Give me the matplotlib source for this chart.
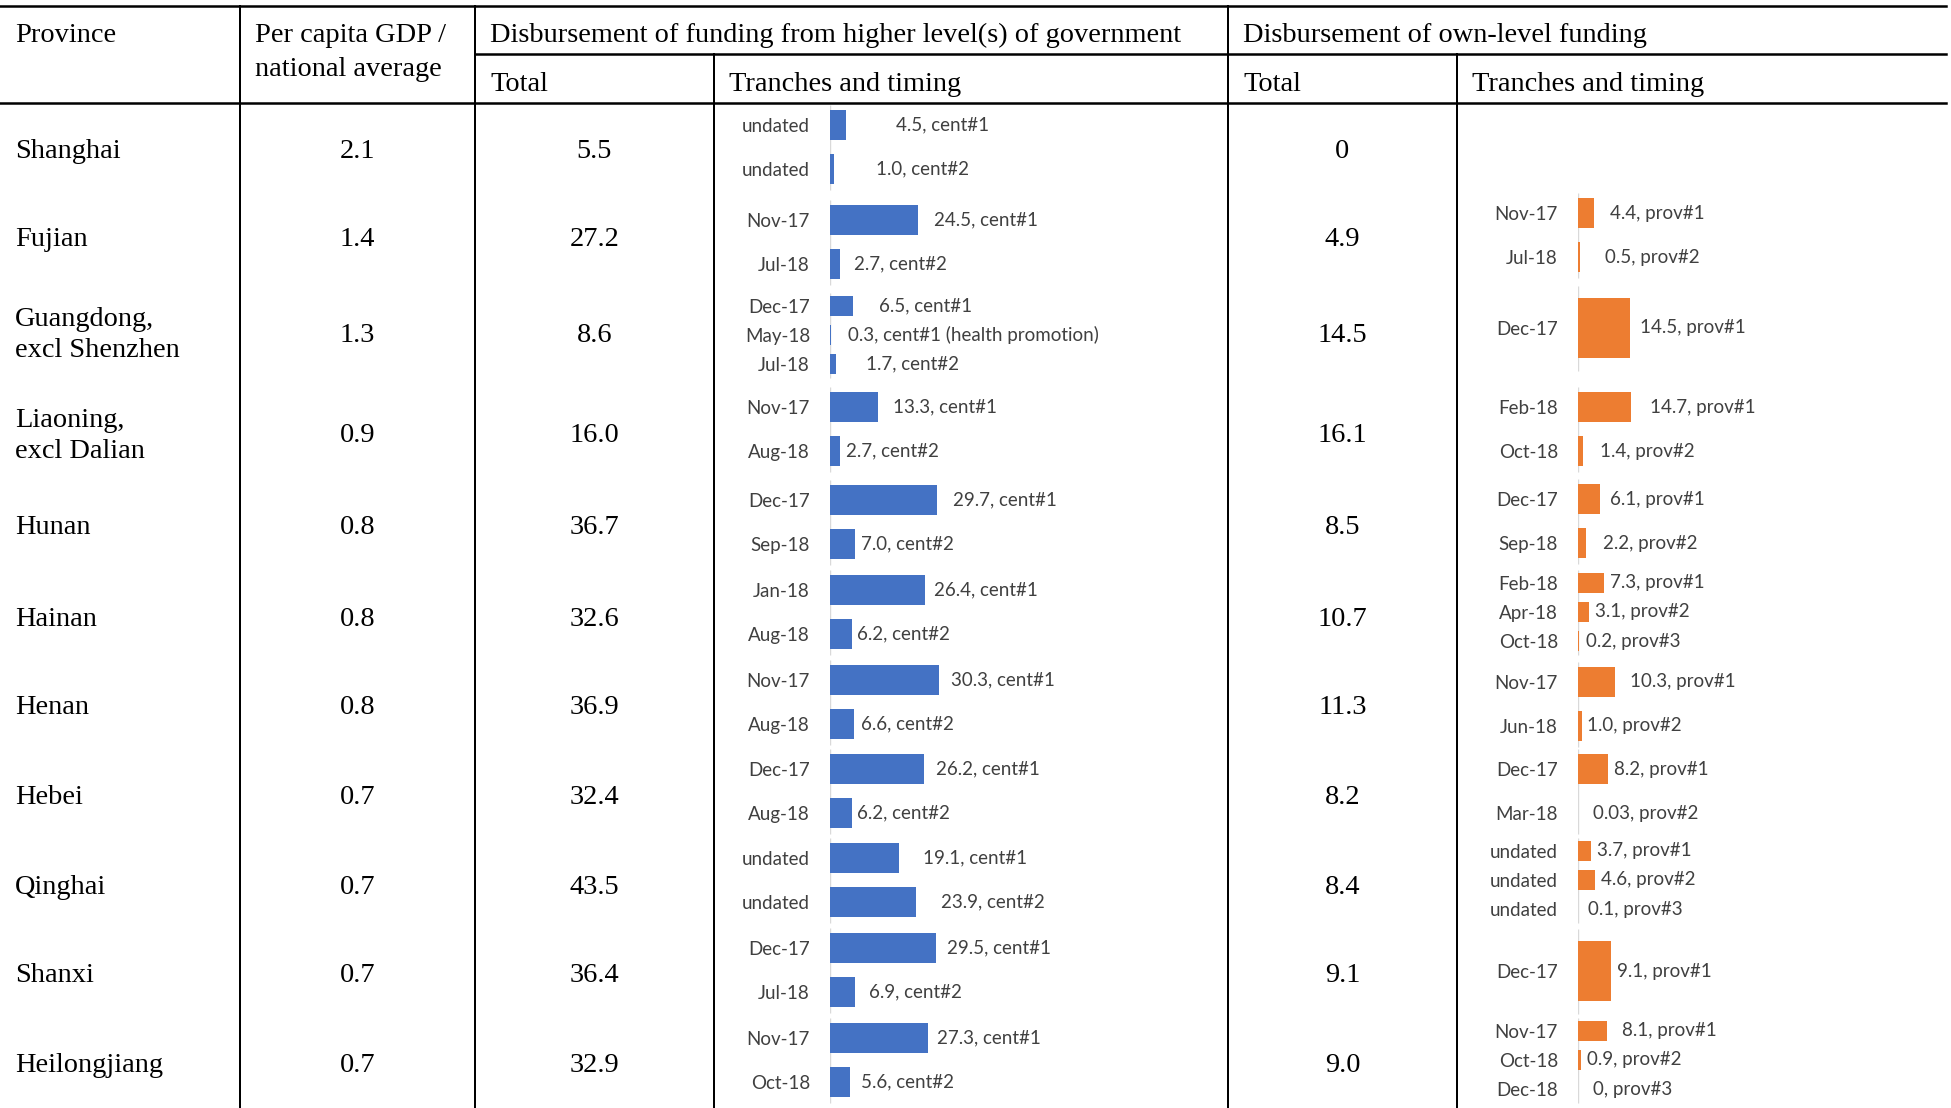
import numpy as np
import matplotlib.pyplot as plt

# ---- data -----------------------------------------------------------------
provinces = ["Shanghai", "Fujian", "Guangdong,\nexcl Shenzhen", "Liaoning,\nexcl Dalian",
             "Hunan", "Hainan", "Henan", "Hebei", "Qinghai", "Shanxi", "Heilongjiang"]
gdp_ratio = [2.1, 1.4, 1.3, 0.9, 0.8, 0.8, 0.8, 0.7, 0.7, 0.7, 0.7]
central_total = [5.5, 27.2, 8.6, 16.0, 36.7, 32.6, 36.9, 32.4, 43.5, 36.4, 32.9]
own_total = [0, 4.9, 14.5, 16.1, 8.5, 10.7, 11.3, 8.2, 8.4, 9.1, 9.0]

central_dates = [["undated", "undated"], ["Nov-17", "Jul-18"], ["Dec-17", "May-18", "Jul-18"],
                 ["Nov-17", "Aug-18"], ["Dec-17", "Sep-18"], ["Jan-18", "Aug-18"],
                 ["Nov-17", "Aug-18"], ["Dec-17", "Aug-18"], ["undated", "undated"],
                 ["Dec-17", "Jul-18"], ["Nov-17", "Oct-18"]]
central_values = [[4.5, 1.0], [24.5, 2.7], [6.5, 0.3, 1.7], [13.3, 2.7], [29.7, 7.0],
                  [26.4, 6.2], [30.3, 6.6], [26.2, 6.2], [19.1, 23.9], [29.5, 6.9], [27.3, 5.6]]
central_tags = [["cent#1", "cent#2"], ["cent#1", "cent#2"],
                ["cent#1", "cent#1 (health promotion)", "cent#2"],
                ["cent#1", "cent#2"], ["cent#1", "cent#2"], ["cent#1", "cent#2"],
                ["cent#1", "cent#2"], ["cent#1", "cent#2"], ["cent#1", "cent#2"],
                ["cent#1", "cent#2"], ["cent#1", "cent#2"]]

own_dates = [[], ["Nov-17", "Jul-18"], ["Dec-17"], ["Feb-18", "Oct-18"], ["Dec-17", "Sep-18"],
             ["Feb-18", "Apr-18", "Oct-18"], ["Nov-17", "Jun-18"], ["Dec-17", "Mar-18"],
             ["undated", "undated", "undated"], ["Dec-17"], ["Nov-17", "Oct-18", "Dec-18"]]
own_values = [[], [4.4, 0.5], [14.5], [14.7, 1.4], [6.1, 2.2], [7.3, 3.1, 0.2], [10.3, 1.0],
              [8.2, 0.03], [3.7, 4.6, 0.1], [9.1], [8.1, 0.9, 0]]
own_tags = [[], ["prov#1", "prov#2"], ["prov#1"], ["prov#1", "prov#2"], ["prov#1", "prov#2"],
            ["prov#1", "prov#2", "prov#3"], ["prov#1", "prov#2"], ["prov#1", "prov#2"],
            ["prov#1", "prov#2", "prov#3"], ["prov#1"], ["prov#1", "prov#2", "prov#3"]]

# ---- layout (pixels) ------------------------------------------------------
W, H, DPI = 1951, 1108, 100
ROW_Y = [152, 240, 335, 436, 528, 619, 708, 797, 887, 976, 1065]
# vertical centre of each little bar chart, per table cell
CENT_Y = [147, 242, 335, 429, 522, 612, 702, 791, 880, 970, 1060]
OWN_Y = [147, 235, 328, 429, 521, 612, 704, 791, 880, 971, 1060]
PX_PER_UNIT = 3.6
PLOT_H = 88
BAR_FRAC = 0.68
# gap between bar end and its data label, as Excel placed them
CENT_GAP = [50, 42, 16, 14, 26, 17, 30, 15, 6, 16, 6, 9, 5, 12, 7, 12, 5, 24, 25, 11, 14, 9, 11]
OWN_GAP = [16, 25, 10, 19, 17, 10, 17, 6, 6, 7, 15, 5, 6, 15, 6, 6, 10, 6, 15, 6, 15]

SERIF = "Liberation Serif"
SANS = "Lato"
FS_TABLE = 20.4
FS_CHART = 13.5
LBL_COLOR = "#404040"
BLUE = "#4472C4"
ORANGE = "#ED7D31"


def fmt(v):
    if v == 0:
        return "0"
    if v < 0.1:
        return f"{v:.2f}"
    return f"{v:.1f}"


fig = plt.figure(figsize=(W / DPI, H / DPI), dpi=DPI)
tab = fig.add_axes([0, 0, 1, 1])
tab.set_xlim(0, W)
tab.set_ylim(H, 0)
tab.axis("off")

# table rules
hlw = 2.5 * 72 / DPI
vlw = 2.0 * 72 / DPI
tab.plot([0, 1946], [5.5, 5.5], color="black", lw=hlw)
tab.plot([475, 1946], [54, 54], color="black", lw=hlw)
tab.plot([0, 1946], [103, 103], color="black", lw=hlw)
for x, y0 in [(240, 5.5), (475, 5.5), (714, 54), (1228, 5.5), (1457, 54)]:
    tab.plot([x, x], [y0, H], color="black", lw=vlw)

# headers
hdr = dict(family=SERIF, fontsize=FS_TABLE, va="baseline", ha="left", color="black")
tab.text(15, 42, "Province", **hdr)
tab.text(255, 42, "Per capita GDP /", **hdr)
tab.text(255, 76, "national average", **hdr)
tab.text(490, 42, "Disbursement of funding from higher level(s) of government", **hdr)
tab.text(1243, 42, "Disbursement of own-level funding", **hdr)
tab.text(490, 91, "Total", **hdr)
tab.text(729, 91, "Tranches and timing", **hdr)
tab.text(1243, 91, "Total", **hdr)
tab.text(1472, 91, "Tranches and timing", **hdr)

# row cells
cell = dict(family=SERIF, fontsize=FS_TABLE, va="center", color="black")
for i, y in enumerate(ROW_Y):
    tab.text(15, y, provinces[i], ha="left", linespacing=1.33, **cell)
    tab.text(357.5, y, f"{gdp_ratio[i]:.1f}", ha="center", **cell)
    tab.text(594.5, y, f"{central_total[i]:.1f}", ha="center", **cell)
    tab.text(1342.5, y, fmt(own_total[i]), ha="center", **cell)


def tranche_axes(left_px, width_px, centers, dates, values, tags, gaps, color):
    ax = fig.add_axes([left_px / W, 0, width_px / W, 1])
    ax.set_xlim(0, width_px / PX_PER_UNIT)
    ax.set_ylim(H, 0)
    ax.patch.set_visible(False)
    for s in ax.spines.values():
        s.set_visible(False)
    ax.set_xticks([])
    ticks, labels = [], []
    k = 0
    for i, c in enumerate(centers):
        n = len(values[i])
        if n == 0:
            continue
        band = PLOT_H / n
        ys = c - PLOT_H / 2 + band * (np.arange(n) + 0.5)
        ax.vlines(0, c - PLOT_H / 2 + 1.5, c + PLOT_H / 2 - 1.5, color="#d9d9d9", lw=1, zorder=1)
        ax.barh(ys, values[i], height=band * BAR_FRAC, left=0, color=color, zorder=2)
        for yy, v, tag in zip(ys, values[i], tags[i]):
            ax.annotate(f"{fmt(v)}, {tag}", xy=(v, yy), xytext=(gaps[k], 0),
                        textcoords="offset pixels", ha="left", va="center",
                        family=SANS, fontsize=FS_CHART, color=LBL_COLOR)
            k += 1
        ticks.extend(ys)
        labels.extend(dates[i])
    ax.set_yticks(ticks)
    ax.set_yticklabels(labels, family=SANS, fontsize=FS_CHART, color=LBL_COLOR)
    ax.tick_params(axis="y", length=0, pad=20 * 72 / DPI)
    return ax


tranche_axes(830, 390, CENT_Y, central_dates, central_values, central_tags, CENT_GAP, BLUE)
tranche_axes(1578, 360, OWN_Y, own_dates, own_values, own_tags, OWN_GAP, ORANGE)

fig.savefig("out.png", dpi=DPI)
